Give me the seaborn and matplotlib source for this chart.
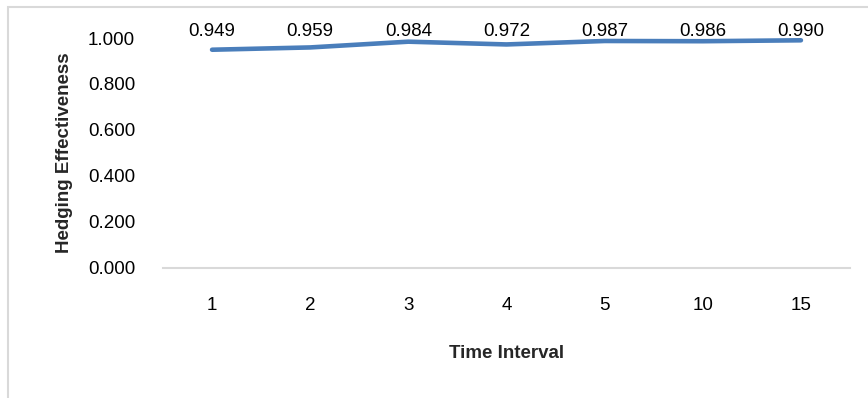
import matplotlib
matplotlib.use("Agg")
import matplotlib.pyplot as plt
import seaborn as sns
import pandas as pd
from matplotlib.patches import Rectangle

intervals = ["1", "2", "3", "4", "5", "10", "15"]
effectiveness = [0.949, 0.959, 0.984, 0.972, 0.987, 0.986, 0.990]
y_ticks = [0.0, 0.2, 0.4, 0.6, 0.8, 1.0]

sns.set_theme(style="white")
plt.rcParams["font.family"] = ["Liberation Sans", "DejaVu Sans"]

df = pd.DataFrame({"Time Interval": intervals, "Hedging Effectiveness": effectiveness})

W, H = 868, 398
fig = plt.figure(figsize=(W / 100, H / 100), dpi=100)
ax = fig.add_axes([163 / W, 1 - 268 / H, (850 - 163) / W, (268 - 38) / H])

sns.lineplot(data=df, x="Time Interval", y="Hedging Effectiveness", ax=ax,
             color="#4a7ebb", linewidth=3.3, solid_capstyle="round", sort=False)

# value labels sit on a common row just above the plot area
for i, v in enumerate(effectiveness):
    ax.text(i, 1.009, f"{v:.3f}", ha="center", va="baseline", fontsize=13.5,
            color="#000000", clip_on=False)

ax.set_xlim(-0.5, len(intervals) - 0.5)
ax.set_ylim(0, 1.0)
ax.set_yticks(y_ticks)
ax.set_yticklabels([f"{t:.3f}" for t in y_ticks])
ax.tick_params(axis="both", length=0, labelsize=13.5, colors="#000000")
ax.tick_params(axis="x", pad=21)
ax.tick_params(axis="y", pad=20)

for side in ["top", "right", "left"]:
    ax.spines[side].set_visible(False)
ax.spines["bottom"].set_color("#d9d9d9")
ax.spines["bottom"].set_linewidth(1.5)
ax.grid(False)

ax.set_xlabel("Time Interval", fontsize=13.5, fontweight="bold", labelpad=22)
ax.set_ylabel("Hedging Effectiveness", fontsize=13.5, fontweight="bold", labelpad=11)

# chart frame
fig.patches.append(Rectangle((8 / W, -0.1), 1.2, 1 - 7 / H + 0.1,
                             transform=fig.transFigure, fill=False,
                             edgecolor="#d9d9d9", linewidth=1.5))

fig.savefig("out.png", dpi=100)
